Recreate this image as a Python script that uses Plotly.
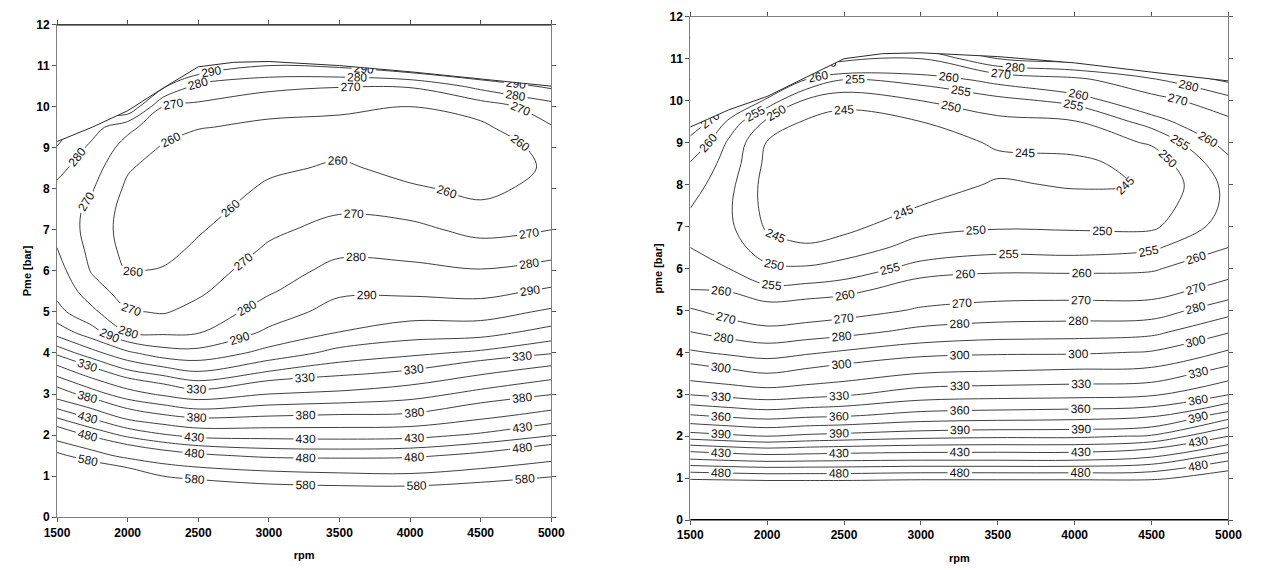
import plotly.graph_objects as go

# ---------------- grid ----------------
rpm = [1500, 1750, 2000, 2250, 2500, 3000, 3500, 4000, 4500, 5000]
pme = [0, 0.5, 1, 1.5, 2, 2.5, 3, 3.5, 4, 4.5, 5, 5.5, 6, 6.5, 7, 7.5, 8,
       8.5, 9, 9.5, 10, 10.5, 11, 11.5, 12]

# ---- left map: bsfc [g/kWh] per rpm column, rows = pme list ----
left_1500 = [950, 800, 690, 593, 505, 445, 392, 357, 327, 306, 293, 287.5, 284, 280.5, 276.5, 276, 278, 282.7, 289.5, 296, 302, 308, 314, 320, 326]
left_1750 = [900, 760, 657, 550, 474, 418.6, 370, 337.5, 313.5, 294, 282, 274.7, 269, 267, 266.5, 267.5, 270.6, 274, 277.5, 284, 296, 305, 312, 318, 324]
left_2000 = [850, 720, 625, 515.7, 448.8, 391.4, 351.8, 324, 302, 280, 270.9, 265, 259.5, 257, 255.5, 256, 258, 261, 266, 272.5, 300, 310, 318, 324, 330]
left_2250 = [820, 690, 580, 497.6, 432.5, 380, 342.2, 317.5, 294.4, 278.3, 269.2, 265, 260.8, 257, 254, 252.5, 253, 255.5, 259, 264.1, 270, 292, 305, 315, 322]
left_2500 = [800, 660, 564, 486, 422, 371.9, 335, 311.9, 293.2, 279.4, 273.1, 268.4, 265.2, 262, 259, 256, 253, 251.5, 254, 260.7, 267.9, 277, 300, 312, 320]
left_3000 = [760, 630, 548.6, 473.2, 420.7, 376.7, 345, 322, 303.3, 292, 284.7, 278.9, 275.2, 271.5, 268.1, 265, 261.9, 258, 255, 257.5, 263.8, 272.3, 290, 310, 320]
left_3500 = [750, 625, 541, 471.3, 419.7, 380, 348, 327.9, 313.5, 300.2, 294.1, 288.3, 283.1, 278.1, 273.3, 268.9, 265.3, 261.6, 257.5, 256.5, 262.4, 270.5, 292, 315, 325]
left_4000 = [750, 625, 538, 474, 421.7, 381.6, 354.7, 332.5, 317.8, 305.3, 295.8, 288.2, 282.4, 277.1, 272.4, 267.1, 261.2, 257, 255, 256.5, 260, 270.8, 300, 315, 325]
left_4500 = [760, 640, 554, 488.5, 433.7, 396.4, 367.5, 343.6, 322, 306.3, 295.4, 287.1, 280.6, 273.8, 267.4, 261.7, 258, 255.5, 255.5, 258, 264.4, 283.3, 305, 318, 328]
left_5000 = [780, 670, 576.3, 511.8, 453.1, 412.1, 379, 354.7, 329, 313.7, 301.8, 291.6, 283.7, 276.7, 270, 266, 262.5, 261.2, 262.5, 269.3, 275.9, 292, 305, 318, 328]

left_levels = [260, 270, 280, 290, 300, 310, 320, 330, 345, 362, 380, 405, 430, 455, 480, 530, 580]
left_labeled = [260, 270, 280, 290, 330, 380, 430, 480, 580]

left_full_rpm = [1500, 1750, 2000, 2250, 2500, 2750, 3000, 3500, 4000, 4500, 5000]
left_full_pme = [9.15, 9.5, 9.9, 10.45, 10.97, 11.08, 11.1, 11.0, 10.85, 10.68, 10.5]

# ---- right map ----
right_1500 = [650, 580, 495, 442, 396.5, 360.7, 329.1, 307.3, 291.3, 279.8, 271.1, 259.9, 257.5, 255, 252.5, 255.4, 257.4, 259.5, 265.5, 280, 290, 300, 308, 315, 322]
right_1750 = [640, 570, 493.3, 438.5, 393, 356.6, 325.3, 303.3, 288.1, 275.6, 266.2, 259.2, 255, 252.5, 251, 250.7, 251.5, 253, 254.2, 258.3, 275, 290, 300, 308, 315]
right_2000 = [630, 565, 491.8, 435.7, 390, 353.3, 321.8, 300, 285.7, 272.5, 262.7, 256.1, 251, 247.1, 244.3, 243.3, 243, 243.7, 244.7, 249, 258, 275, 290, 300, 310]
right_2250 = [630, 565, 491.8, 436.8, 393, 356.3, 324.7, 303.3, 288.4, 274.4, 263.8, 256.7, 250.6, 245.5, 243, 241.5, 241, 241.5, 243, 244.5, 249.3, 260, 280, 295, 305]
right_2500 = [630, 565, 491.8, 437.9, 395, 358, 327.9, 306.9, 291.3, 276.5, 265.8, 257.6, 252.1, 247.3, 243.5, 241.8, 240.5, 240.2, 241, 242.8, 246.7, 255, 272, 290, 305]
right_3000 = [640, 570, 494.1, 439.1, 398.7, 364.8, 337.2, 315, 296, 282.6, 271.1, 264, 256.7, 251.9, 248.3, 245, 242.5, 241.2, 241.5, 245, 250, 256.8, 270, 295, 310]
right_3500 = [640, 570, 494, 439, 400.4, 366.8, 339.4, 317.1, 297.9, 285, 273.6, 265.3, 258.5, 253.3, 249.5, 247.6, 245.6, 243.5, 245.9, 248.7, 253.3, 261.9, 290, 300, 310]
right_4000 = [640, 570, 494, 439, 400.4, 368.2, 340.3, 319, 298.2, 285.6, 274.2, 265.5, 258.3, 253, 249.3, 246.9, 244.5, 243.8, 246.8, 249.7, 256.5, 267.3, 295, 310, 320]
right_4500 = [640, 570, 494.4, 447, 404.5, 371.7, 342.5, 320.6, 300.8, 287.1, 274.7, 265.6, 259, 254.2, 249, 247, 245.2, 246.8, 250.6, 257.1, 266, 278.6, 300, 315, 325]
right_5000 = [680, 610, 515, 472.4, 430, 396.5, 359.1, 337.1, 317, 298.5, 286.3, 273.8, 265.9, 260, 257.5, 256.2, 256.5, 258.5, 262.3, 268, 276.2, 292, 305, 318, 328]

right_levels = [245, 250, 255, 260, 270, 280, 290, 300, 315, 330, 345, 360, 375, 390, 403, 416, 430, 447, 463, 480, 500]
right_labeled = [245, 250, 255, 260, 270, 280, 300, 330, 360, 390, 430, 480]

right_full_rpm = [1500, 1750, 2000, 2250, 2500, 2750, 3000, 3500, 4000, 4500, 5000]
right_full_pme = [9.37, 9.78, 10.1, 10.55, 11.0, 11.12, 11.14, 11.05, 10.9, 10.68, 10.47]

x_ticks = [1500, 2000, 2500, 3000, 3500, 4000, 4500, 5000]
y_ticks = list(range(0, 13))
x_range = [1500, 5000]
y_range = [0, 12]

left_cols = [left_1500, left_1750, left_2000, left_2250, left_2500, left_3000,
             left_3500, left_4000, left_4500, left_5000]
right_cols = [right_1500, right_1750, right_2000, right_2250, right_2500, right_3000,
              right_3500, right_4000, right_4500, right_5000]
left_z = [list(r) for r in zip(*left_cols)]
right_z = [list(r) for r in zip(*right_cols)]

LINE = '#2a2a2a'
FONT = 'Liberation Sans'
# plotly spaces labels along a path according to the number of contour levels
# in the trace; padding with empty (out-of-range) levels gives several labels
# per line, as in the original figure.
LABEL_PAD_LEVELS = 170
PAD_STEP = 10000

fig = go.Figure()


def add_map(z, levels, labeled, xa, ya, full_rpm, full_pme):
    for lv in levels:
        lab = lv in labeled
        n = LABEL_PAD_LEVELS if lab else 1
        fig.add_trace(go.Contour(
            x=rpm, y=pme, z=z, xaxis=xa, yaxis=ya,
            autocontour=False,
            contours=dict(start=lv, end=lv + (n - 1) * PAD_STEP, size=PAD_STEP,
                          coloring='lines', showlabels=lab, labelformat='.0f',
                          labelfont=dict(size=12, color='#111', family=FONT)),
            colorscale=[[0, LINE], [1, LINE]], showscale=False,
            line=dict(width=0.9, smoothing=1.0),
            hoverinfo='skip'))
    # white mask above the full-load curve
    fig.add_trace(go.Scatter(
        x=full_rpm + full_rpm[::-1],
        y=full_pme + [y_range[1]] * len(full_rpm),
        xaxis=xa, yaxis=ya, mode='lines', fill='toself',
        fillcolor='white', line=dict(width=0, color='white'),
        hoverinfo='skip', showlegend=False))
    fig.add_trace(go.Scatter(
        x=full_rpm, y=full_pme, xaxis=xa, yaxis=ya, mode='lines',
        line=dict(color=LINE, width=1), hoverinfo='skip', showlegend=False))


add_map(left_z, left_levels, left_labeled, 'x', 'y', left_full_rpm, left_full_pme)
add_map(right_z, right_levels, right_labeled, 'x2', 'y2', right_full_rpm, right_full_pme)

tickfont = dict(size=12, color='black', family=FONT, weight='bold')
titlefont = dict(size=11, color='black', family=FONT, weight='bold')
axis_common = dict(showgrid=False, zeroline=False, showline=True, linecolor='#808080',
                   linewidth=1, mirror='ticks', ticks='outside', ticklen=4,
                   tickcolor='#555', tickfont=tickfont)

fig.update_layout(
    width=1264, height=570, margin=dict(l=0, r=0, t=0, b=0),
    paper_bgcolor='white', plot_bgcolor='white', showlegend=False,
    xaxis=dict(domain=[45 / 1264, 550 / 1264], range=x_range, tickvals=x_ticks,
               anchor='y', title=dict(text='rpm', font=titlefont, standoff=12), **axis_common),
    yaxis=dict(domain=[(570 - 523) / 570, (570 - 18) / 570], range=y_range, tickvals=y_ticks,
               anchor='x', title=dict(text='Pme [bar]', font=titlefont, standoff=2), **axis_common),
    xaxis2=dict(domain=[692 / 1264, 1242 / 1264], range=x_range, tickvals=x_ticks,
                anchor='y2', title=dict(text='rpm', font=titlefont, standoff=12), **axis_common),
    yaxis2=dict(domain=[(570 - 526) / 570, (570 - 10) / 570], range=y_range, tickvals=y_ticks,
                anchor='x2', title=dict(text='pme [bar]', font=titlefont, standoff=4), **axis_common),
    shapes=[
        dict(type='line', xref='x', yref='y', x0=x_range[0], x1=x_range[1],
             y0=y_range[1], y1=y_range[1], line=dict(color='black', width=2)),
        dict(type='line', xref='x2', yref='y2', x0=x_range[0], x1=x_range[1],
             y0=y_range[0], y1=y_range[0], line=dict(color='black', width=2)),
    ],
)

fig.write_html('out.html')
